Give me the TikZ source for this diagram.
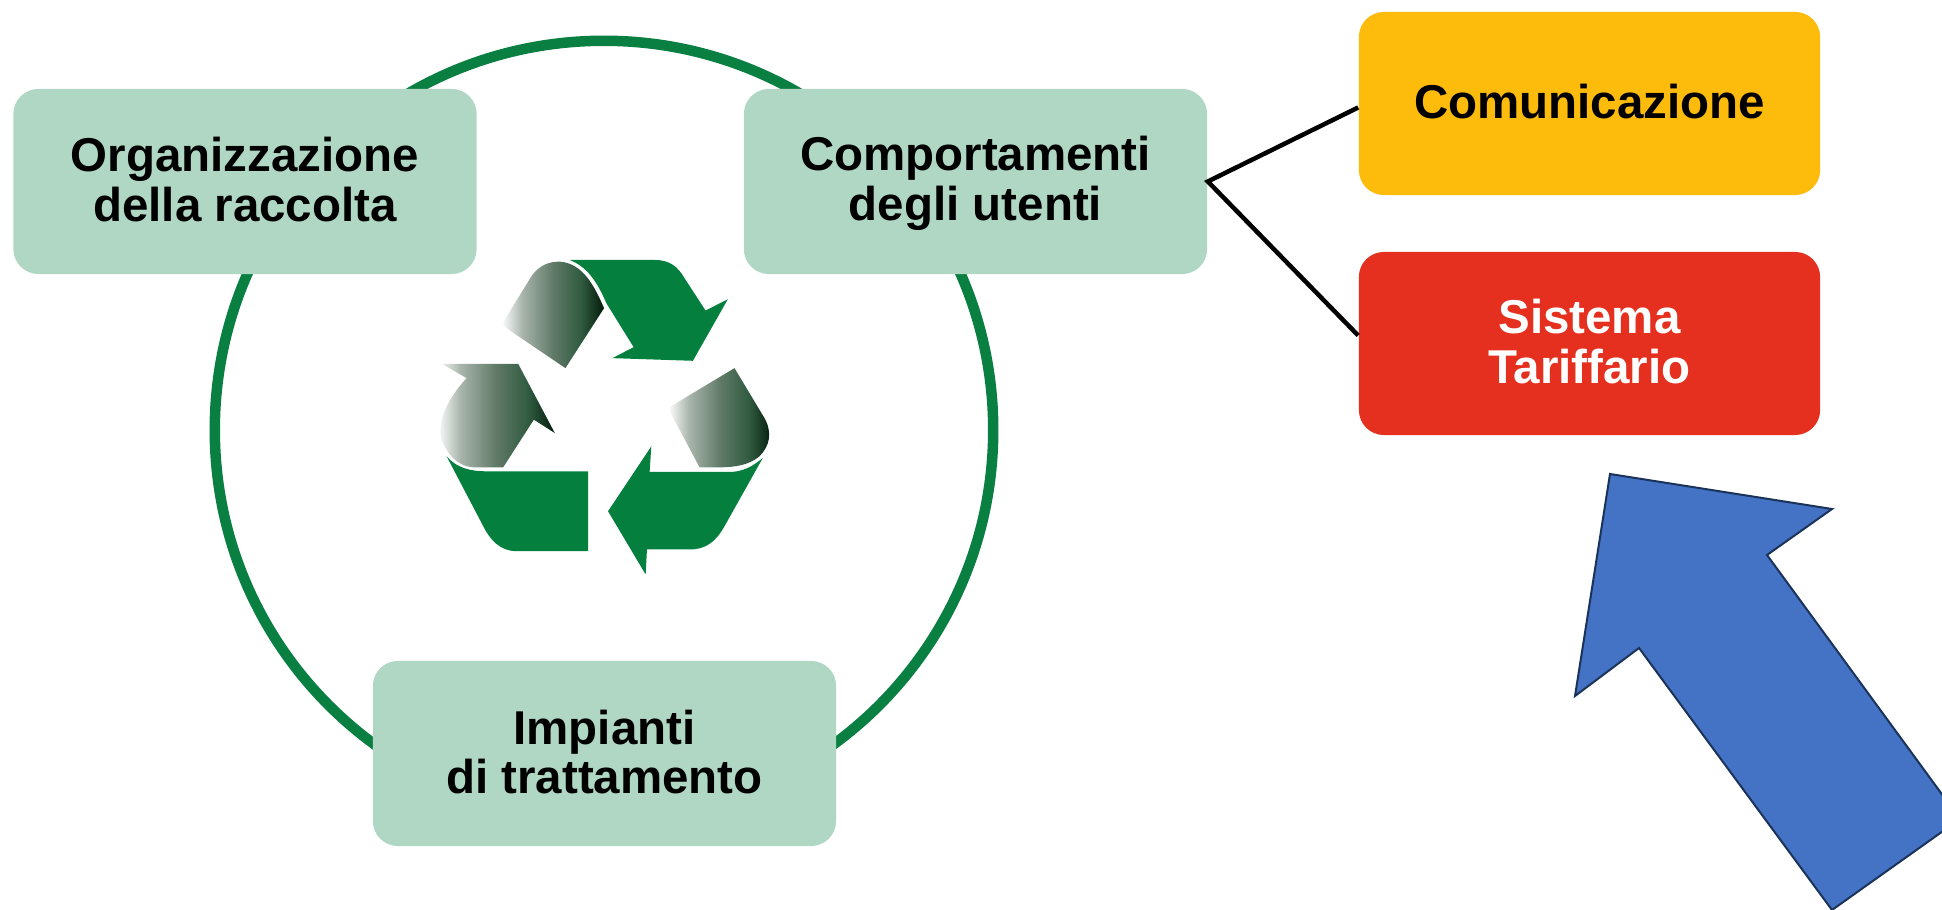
\documentclass[tikz,border=0pt]{standalone}
\usepackage{fontspec}
\setmainfont{Liberation Sans}
\definecolor{stagegreen}{HTML}{B0D7C4}
\definecolor{ringgreen}{HTML}{0A7F42}
\definecolor{leafgreen}{HTML}{047F3E}
\definecolor{fadegrey}{HTML}{A9B5AC}
\definecolor{fademid}{HTML}{617A68}
\definecolor{fadedeep}{HTML}{2F5A3F}
\definecolor{fadedark}{HTML}{021A0B}
\definecolor{commyellow}{HTML}{FDBB0B}
\definecolor{tariffred}{HTML}{E5301F}
\definecolor{bigblue}{HTML}{4472C4}
\definecolor{bigedge}{HTML}{1B3358}
\newcommand{\rowstrut}{\rule[-2.2pt]{0pt}{13.2pt}}
\pgfdeclarehorizontalshading{leaffade}{100bp}{
    color(0bp)=(white); color(25bp)=(white);
    color(35bp)=(fadegrey);
    color(50bp)=(fademid);
    color(64bp)=(fadedeep);
    color(75bp)=(fadedark); color(100bp)=(fadedark)}
\tikzset{
    boxtext/.style={rounded corners=0.25cm, inner sep=0, align=center, font=\fontsize{13.5}{14.2}\selectfont\bfseries},
    stagebox/.style={boxtext, fill=stagegreen, minimum width=4.63cm, minimum height=1.85cm},
    sidebox/.style={boxtext, minimum width=4.61cm, minimum height=1.83cm},
    leaf/.style={fill=leafgreen},
    fadeleaf/.style={shading=leaffade}
}
\begin{document}
\begin{tikzpicture}[x=0.01cm, y=-0.01cm]
    \path[clip] (0,0) rectangle (1942,910);

    \draw[ringgreen, line width=0.105cm] (604,430) circle (3.89cm);

    \node[stagebox] (org) at (245,181.5) {\rowstrut Organizzazione\\\rowstrut della raccolta};
    \node[stagebox] (comp) at (975.5,181.5) {\rowstrut Comportamenti\\\rowstrut degli utenti};
    \node[stagebox] (imp) at (604.5,753.5) {\rowstrut Impianti\\\rowstrut di trattamento};
    \node[sidebox, fill=commyellow] (comm) at (1589.5,103.5) {\rowstrut Comunicazione};
    \node[sidebox, fill=tariffred, text=white] (tar) at (1589.5,343.5) {\rowstrut Sistema\\\rowstrut Tariffario};

    \draw[line width=0.045cm] ([yshift=-0.04cm]comm.west) -- (comp.east) -- ([yshift=0.08cm]tar.west);

    \begin{scope}[shift={(420,240)}, x=0.003333cm, y=-0.003333cm]
        \fill[leaf] (450,60) -- (705,60) .. controls (750,60) and (775,80) .. (795,115) -- (858,212) -- (925,178) -- (820,363) -- (578,355) -- (642,322) -- (560,190) .. controls (530,120) and (500,80) .. (450,60) -- cycle;
        \fill[leaf] (80,650) .. controls (110,685) and (150,695) .. (200,695) -- (505,695) -- (505,935) -- (290,935) .. controls (240,935) and (210,900) .. (190,860) -- cycle;
        \fill[leaf] (565,815) -- (695,620) -- (690,697) -- (930,697) .. controls (970,697) and (1000,680) .. (1030,655) -- (915,860) .. controls (890,905) and (860,930) .. (810,930) -- (682,930) -- (678,1005) -- cycle;

        \shade[fadeleaf] (245,255) -- (325,125) .. controls (350,80) and (380,65) .. (420,65) .. controls (490,70) and (525,140) .. (553,205) -- (437,385) -- cycle;
        \shade[fadeleaf] (65,372) -- (295,372) -- (405,580) -- (342,540) -- (250,683) -- (160,683) .. controls (110,680) and (80,640) .. (65,600) .. controls (50,550) and (80,480) .. (140,415) -- cycle;
        \shade[fadeleaf] (745,505) -- (945,385) -- (1035,535) .. controls (1060,580) and (1050,620) .. (1020,650) .. controls (990,675) and (950,683) .. (900,683) -- (840,683) -- cycle;
    \end{scope}

    \draw[fill=bigblue, draw=bigedge, line width=0.02cm] (1610,474) -- (1832,509) -- (1767,555) -- (1960,819) -- (1832,910) -- (1639,648) -- (1575,696) -- cycle;
\end{tikzpicture}
\end{document}
